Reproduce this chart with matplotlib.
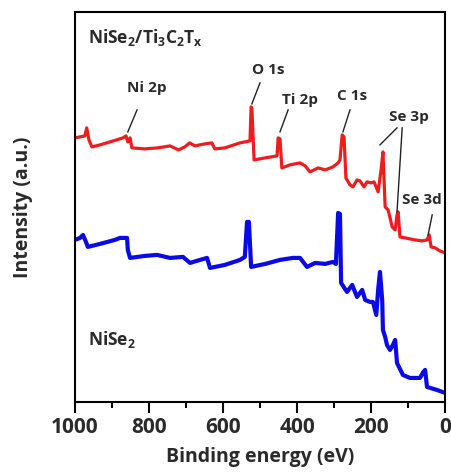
import matplotlib
matplotlib.use("Agg")
import matplotlib.pyplot as plt
from matplotlib.ticker import MultipleLocator

plt.rcParams["font.family"] = ["Open Sans", "DejaVu Sans"]
plt.rcParams["font.weight"] = "bold"
plt.rcParams["mathtext.default"] = "regular"

# --- survey spectra (binding energy eV, intensity a.u.) ---
red_E = [1000, 986, 973, 968, 962, 954, 932, 905, 870, 862, 857, 851, 846, 811, 776,
         743, 720, 703, 690, 676, 649, 630, 622, 595, 554, 527, 524, 522, 516, 486, 454, 451,
         446, 441, 419, 392, 378, 365, 343, 324, 303, 289, 284, 278, 273, 268, 257,
         249, 238, 230, 219, 211, 200, 192, 181, 173, 168, 162, 154, 143, 135, 130,
         127, 122, 108, 81, 62, 49, 43, 38, 27, 14, 0]
red_I = [264, 265, 266, 274, 262, 255, 257, 260, 264, 266, 260, 264, 254, 253, 254,
         256, 252, 255, 259, 256, 258, 259, 253, 254, 259, 261, 295, 294, 242, 244, 246, 264,
         263, 234, 237, 239, 236, 230, 234, 232, 235, 239, 242, 267, 265, 224, 217,
         215, 222, 221, 215, 220, 219, 220, 210, 232, 250, 195, 192, 175, 172, 187,
         190, 165, 164, 162, 161, 162, 167, 155, 154, 151, 149]

blue_E = [1000, 986, 978, 970, 965, 932, 892, 878, 859, 857, 851, 811, 778, 743, 708,
          689, 662, 643, 635, 595, 554, 541, 535, 530, 524, 486, 446, 411, 392, 373,
          351, 324, 303, 295, 289, 284, 281, 265, 257, 251, 238, 224, 216, 203, 195,
          186, 181, 176, 170, 168, 162, 157, 149, 141, 135, 130, 114, 95, 68, 59,
          54, 49, 22, 0]
blue_I = [162, 164, 167, 160, 155, 158, 162, 164, 164, 152, 144, 146, 147, 144, 145,
          139, 142, 144, 134, 137, 142, 145, 180, 180, 135, 138, 142, 144, 144, 135,
          139, 138, 140, 138, 189, 188, 119, 110, 114, 117, 105, 112, 102, 100, 100,
          87, 112, 130, 102, 72, 65, 57, 52, 57, 62, 39, 27, 24, 24, 30,
          32, 15, 12, 9]

# peak labels: text, text position, line start, line end
peaks = [
    ("Ni 2p", (805, 314), (832, 292), (857, 270)),
    ("O 1s", (478, 332), (500, 319), (522, 298)),
    ("Ti 2p", (392, 302), (424, 292), (446, 270)),
    ("C 1s", (251, 306), (257, 292), (276, 270)),
    ("Se 3p", (97, 285), (130, 274), (176, 257)),
    ("Se 3d", (62, 202), (35, 187), (46, 167)),
]
se3p_second = ((116, 274), (130, 190))

txt = "#2a2a2a"
fig = plt.figure(figsize=(4.51, 4.74), dpi=100)
ax = fig.add_axes([0.166, 0.152, 0.821, 0.823])

ax.plot(red_E, red_I, color="#ee1c1c", lw=2.3, solid_joinstyle="round")
ax.plot(blue_E, blue_I, color="#0a0ae6", lw=3.0, solid_joinstyle="round")

for name, (tx, ty), (x0, y0), (x1, y1) in peaks:
    ax.text(tx, ty, name, ha="center", va="center", fontsize=11, color=txt)
    ax.plot([x0, x1], [y0, y1], color="#222222", lw=1.0)
ax.plot(*zip(*se3p_second), color="#222222", lw=1.0)

ax.text(965, 364, r"NiSe$_2$/Ti$_3$C$_2$T$_x$", ha="left", va="center", fontsize=12.5, color=txt)
ax.text(965, 62, r"NiSe$_2$", ha="left", va="center", fontsize=12.5, color=txt)

ax.set_xlim(1000, 0)
ax.set_ylim(0, 390)
ax.set_yticks([])
ax.xaxis.set_major_locator(MultipleLocator(200))
ax.xaxis.set_minor_locator(MultipleLocator(100))
ax.tick_params(axis="x", which="major", direction="out", length=8, width=1.5,
               labelsize=15, labelcolor=txt, pad=3)
ax.tick_params(axis="x", which="minor", direction="out", length=4.5, width=1.5)
for s in ax.spines.values():
    s.set_linewidth(1.5)
ax.set_xlabel("Binding energy (eV)", fontsize=14, fontweight="bold", color=txt, labelpad=6)
ax.set_ylabel("Intensity (a.u.)", fontsize=14, fontweight="bold", color=txt, labelpad=30)

fig.savefig("out.png", dpi=100)
